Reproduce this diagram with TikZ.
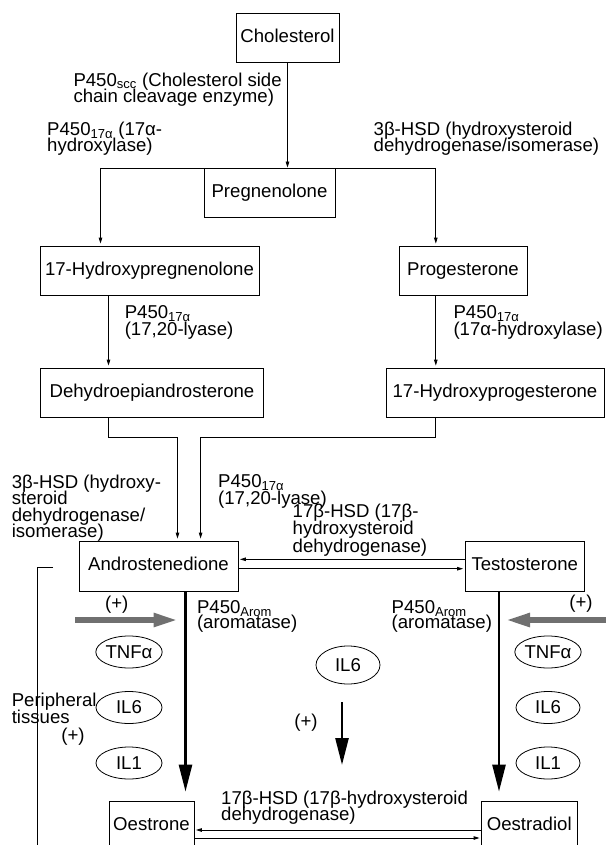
\documentclass[tikz,border=0pt]{standalone}
\usepackage{fontspec}
\setmainfont{Liberation Sans}
\usetikzlibrary{arrows.meta,shapes.geometric}
\definecolor{arrowgray}{RGB}{112,112,112}
\lineskiplimit=-20pt
\begin{document}
\begin{tikzpicture}[x=1pt,y=-1pt,
  every node/.style={font=\fontsize{18.6}{16.5}\selectfont},
  box/.style={draw, line width=0.8pt, inner sep=0pt, minimum height=49pt, text height=13.4pt, text depth=3.9pt},
  lab/.style={anchor=north west, inner sep=0pt, align=left},
  cyto/.style={draw, ellipse, line width=0.8pt, inner sep=0pt, minimum width=66pt, minimum height=32pt},
  thinline/.style={line width=0.8pt},
  arr/.style={line width=0.8pt, -{Triangle[length=6pt,width=3.5pt]}},
  bigarr/.style={line width=2.6pt, -{Triangle[length=27pt,width=13pt]}},
  grayarr/.style={line width=5.3pt, draw=arrowgray, -{Triangle[length=24pt,width=13pt]}},
  plus/.style={inner sep=0pt}
]
\useasboundingbox (0,0) rectangle (605,845);

% boxes
\node[box, minimum width=103pt] (chol) at (287.5,37.5) {Cholesterol};
\node[box, minimum width=131pt] (preg) at (269.5,192.5) {Pregnenolone};
\node[box, minimum width=219pt] (hpreg) at (149.5,270.5) {17-Hydroxypregnenolone};
\node[box, minimum width=128pt] (prog) at (463,270.5) {Progesterone};
\node[box, minimum width=223pt] (dhea) at (152,392.5) {Dehydroepiandrosterone};
\node[box, minimum width=218pt] (ohp) at (495,392.5) {17-Hydroxyprogesterone};
\node[box, minimum width=159pt, minimum height=50pt] (andro) at (158.5,566) {Androstenedione};
\node[box, minimum width=119.5pt, minimum height=50pt] (testo) at (524.75,566) {Testosterone};
\node[box, minimum width=85pt] (oestrone) at (151.5,825.5) {Oestrone};
\node[box, minimum width=95.5pt] (oestradiol) at (529.25,825.5) {Oestradiol};

% cytokines
\node[cyto] (tnfL) at (129,652) {TNFα};
\node[cyto] (il6L) at (129,707.5) {IL6};
\node[cyto] (il1L) at (129,763) {IL1};
\node[cyto, minimum width=64pt] (tnfR) at (548,652) {TNFα};
\node[cyto, minimum width=64pt] (il6R) at (548,707.5) {IL6};
\node[cyto, minimum width=64pt] (il1R) at (548,763) {IL1};
\node[cyto, minimum width=64pt, minimum height=38pt] (il6M) at (348,665) {IL6};

% enzyme labels
\node[lab] (l1) at (73.3,72.5) {P450\textsubscript{scc} (Cholesterol side\\chain cleavage enzyme)};
\node[lab] (l2) at (47,121.5) {P450\textsubscript{17α} (17α-\\hydroxylase)};
\node[lab] (l3) at (373.5,121.5) {3β-HSD (hydroxysteroid\\dehydrogenase/isomerase)};
\node[lab] (l4) at (124.6,305.5) {P450\textsubscript{17α}\\(17,20-lyase)};
\node[lab] (l5) at (453.3,305.5) {P450\textsubscript{17α}\\(17α-hydroxylase)};
\node[lab] (l6) at (11.6,474.5) {3β-HSD (hydroxy-\\steroid\\dehydrogenase/\\isomerase)};
\node[lab] (l7) at (218,474.5) {P450\textsubscript{17α}\\(17,20-lyase)};
\node[lab, font=\fontsize{18.6}{17.3}\selectfont] (l8) at (292.5,504) {17β-HSD (17β-\\hydroxysteroid\\dehydrogenase)};
\node[lab, font=\fontsize{18.6}{15.8}\selectfont] (l9) at (196.8,600) {P450\textsubscript{Arom}\\(aromatase)};
\node[lab, font=\fontsize{18.6}{15.8}\selectfont] (l10) at (391.5,600) {P450\textsubscript{Arom}\\(aromatase)};
\node[lab, font=\fontsize{18.6}{17.5}\selectfont] (l11) at (11.6,692.5) {Peripheral\\tissues};
\node[lab, font=\fontsize{18.6}{15.8}\selectfont] (l12) at (221,791) {17β-HSD (17β-hydroxysteroid\\dehydrogenase)};

% (+) marks
\node[plus] (pA) at (116.7,605) {(+)};
\node[plus] (pB) at (581,603.5) {(+)};
\node[plus] (pC) at (73,737) {(+)};
\node[plus] (pD) at (306,723) {(+)};

% helper coordinates
\coordinate (sL) at (100.5,168);
\coordinate (sR) at (435.8,168);
\coordinate (xL) at (108.5,0);
\coordinate (jL) at (177.5,437);
\coordinate (jR) at (200.6,437);
\coordinate (tL) at (185.5,0);
\coordinate (tR) at (499,0);
\coordinate (eL) at ([yshift=9pt]oestrone.north -| tL);
\coordinate (eR) at ([yshift=9pt]oestradiol.north -| tR);
\coordinate (mTop) at (342,702);
\coordinate (mTip) at (342,765);
\coordinate (gL) at (75,620);
\coordinate (gLt) at (177.5,620);
\coordinate (gR) at (607,620);
\coordinate (gRt) at (506,620);
\coordinate (bk1) at (53,567);
\coordinate (bk2) at (37,567);
\coordinate (bk3) at (37,850);

% connectors
\draw[arr] (chol.south) -- (chol.south |- preg.north);
\draw[thinline] (sL) -- (sR);
\draw[arr, shorten >=2pt] (sL) -- (sL |- hpreg.north);
\draw[arr, shorten >=2pt] (sR) -- (sR |- prog.north);
\draw[arr, shorten >=2pt] (hpreg.south -| xL) -- (dhea.north -| xL);
\draw[arr, shorten >=2pt] (prog.south -| sR) -- (ohp.north -| sR);
\draw[arr, shorten >=2pt] (dhea.south -| xL) |- (jL) -- (jL |- andro.north);
\draw[arr, shorten >=2pt] (ohp.south -| sR) |- (jR) -- (jR |- andro.north);
\draw[arr, shorten >=1.5pt] ([yshift=6.7pt]testo.west) -- ([yshift=6.7pt]andro.east);
\draw[arr, shorten >=1.5pt] ([yshift=-2.7pt]andro.east) -- ([yshift=-2.7pt]testo.west);
\draw[arr, shorten >=1.5pt] ([yshift=-4.5pt]oestradiol.west) -- ([yshift=-4.5pt]oestrone.east);
\draw[arr, shorten >=1.5pt] ([yshift=-12.5pt]oestrone.east) -- ([yshift=-12.5pt]oestradiol.west);
\draw[bigarr] (andro.south -| tL) -- (eL);
\draw[bigarr] (testo.south -| tR) -- (eR);
\draw[bigarr] (mTop) -- (mTip);
\draw[grayarr] (gL) -- (gLt);
\draw[grayarr] (gR) -- (gRt);
\draw[thinline] (bk1) -- (bk2) -- (bk3);
\end{tikzpicture}
\end{document}
